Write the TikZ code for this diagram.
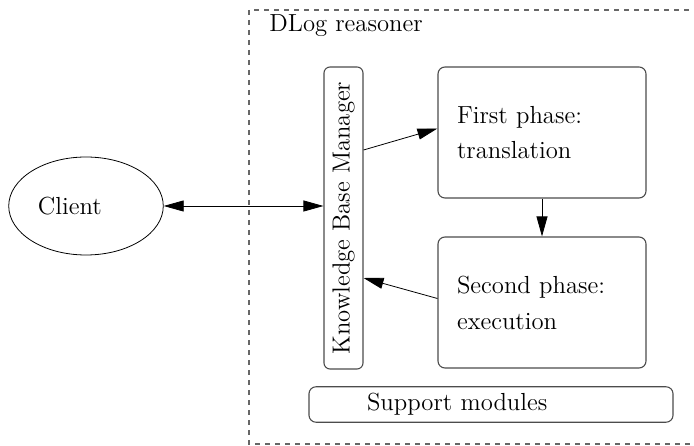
\documentclass[tikz,border=0pt]{standalone}
\usetikzlibrary{arrows.meta,shapes.geometric}
\begin{document}
\begin{tikzpicture}[x=0.5bp,y=-0.5bp,
		every node/.style={font=\fontsize{12.4}{14.5}\selectfont},
		box/.style={draw=black!70, line width=0.55pt, rounded corners=3.5bp},
		conn/.style={-{Triangle[length=10bp,width=5.5bp]}},
		twoway/.style={{Triangle[length=10bp,width=5.5bp]}-{Triangle[length=10bp,width=5.5bp]}}]
		\useasboundingbox (0,0) rectangle (694,446);
		% Draw reasoner frame
		\draw [black!60, line width=0.6pt, dash pattern=on 2.6bp off 2.4bp] (249,10) rectangle (700,444);
		\node [anchor=base west, inner sep=0pt] (title) at (269,32) {DLog reasoner};
		% Draw components
		\node [draw, ellipse, minimum width=76bp, minimum height=49bp, text width=48bp, align=left] (client) at (86,206) {Client};
		\node [box, rounded corners=3bp, rotate=90, minimum width=151bp, minimum height=19.5bp, inner sep=0pt] (kb) at (343.5,218) {Knowledge Base Manager};
		\node [box, minimum width=104bp, minimum height=65.5bp, inner xsep=9.5bp, text width=85bp, align=left] (first) at (542,132.5) {First phase:\\[3.5pt] translation};
		\node [box, minimum width=104bp, minimum height=65.5bp, inner xsep=9.5bp, text width=85bp, align=left] (second) at (542,302.5) {Second phase:\\[3.5pt] execution};
		\node [box, minimum width=182bp, minimum height=17.5bp, inner xsep=29bp, text width=124bp, align=left] (support) at (491,404.5) {Support modules};
		% Draw connectors
		\draw [twoway] (client.east) -- (client.east -| kb.north);
		\draw [conn] ([yshift=34bp]kb.south) -- ([yshift=2bp]first.west);
		\draw [conn] (first) -- (second);
		\draw [conn] ([yshift=2bp]second.west) -- ([yshift=-30bp]kb.south);
	\end{tikzpicture}
\end{document}
